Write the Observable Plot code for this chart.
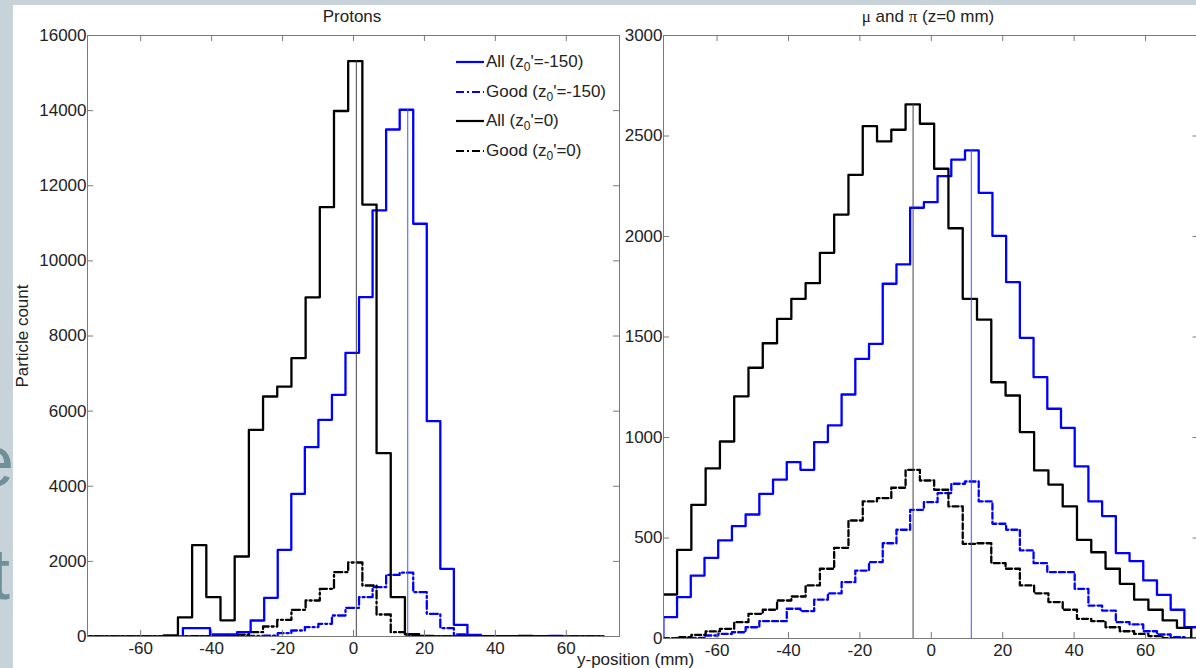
<!DOCTYPE html>
<html>
<head>
<meta charset="utf-8">
<script src="https://cdn.jsdelivr.net/npm/d3@7"></script>
<script src="https://cdn.jsdelivr.net/npm/@observablehq/plot@0.6"></script>
<style>
  html, body { margin: 0; padding: 0; }
  body {
    width: 1196px; height: 668px; overflow: hidden; position: relative;
    background: #c8d3d9; font-family: "Liberation Sans", Arial, sans-serif; color: #222;
  }
  .slide-letter { position: absolute; font-size: 72px; color: #6f8f99; line-height: 1; }
  #sheet { position: absolute; left: 13px; top: 5px; right: 0; bottom: 0; background: #fff; }
  .panel { position: absolute; top: 0; }
  .panel svg { overflow: visible; max-width: none; }
  .label { position: absolute; font-size: 17px; white-space: nowrap; line-height: 1; }
  .title { transform: translateX(-50%); }
  .serif { font-family: "Liberation Serif", "Times New Roman", serif; }
  .legend { position: absolute; left: 455px; top: 52px; font-size: 17px; }
  .legend .row { position: absolute; left: 0; height: 20px; white-space: nowrap; }
  .legend svg { position: absolute; left: 0; top: 5px; }
  .legend span { position: absolute; left: 31px; top: 0; line-height: 20px; }
  .legend sub { font-size: 12px; vertical-align: -4px; line-height: 0; }
</style>
</head>
<body>
<div class="slide-letter" style="left:-26px; top:425px;">e</div>
<div class="slide-letter" style="left:-10px; top:538px;">t</div>
<div id="sheet"></div>
<div id="protons" class="panel" style="left:0px;"></div>
<div id="mesons" class="panel" style="left:600px;"></div>

<div class="label title" style="left:352px; top:8px;">Protons</div>
<div class="label title" style="left:928px; top:8px;"><span class="serif">μ</span> and <span class="serif">π</span> (z=0 mm)</div>
<div class="label" style="left:577px; top:651px;">y-position (mm)</div>
<div class="label" style="left:22px; top:336px; transform: translate(-50%,-50%) rotate(-90deg);">Particle count</div>

<div class="legend" id="legend"></div>

<script>
// Histogram outlines, bin counts per series (y-position in mm, counts per bin)
const xTicks = [-60, -40, -20, 0, 20, 40, 60];

// Protons
const protonYTicks = [0, 2000, 4000, 6000, 8000, 10000, 12000, 14000, 16000];
const protonBinsZ0 = { start: -77.5, width: 4 };
const protonAllZ0 = [0, 0, 0, 0, 0, 0, 30, 510, 2430, 1050, 430, 2130, 5500, 6390, 6650, 7410,
  9030, 11430, 13990, 15320, 11500, 4880, 1050, 60, 15, 0, 0, 0, 0, 0, 0, 15, 0, 0, 0, 0, 0];
const protonGoodZ0 = [0, 0, 0, 0, 0, 0, 0, 5, 10, 10, 20, 50, 115, 266, 444, 710,
  958, 1269, 1713, 1970, 1358, 586, 115, 40, 5, 0, 0, 0, 0, 0, 0, 0, 0, 0, 0, 0, 0];
const protonBinsZ150 = { start: -48.1, width: 3.82 };
const protonAllZ150 = [222, 222, 53, 53, 115, 426, 1030, 2308, 3798, 5040, 5769, 6434, 7553, 9034,
  11342, 13498, 14023, 10988, 5733, 1802, 311, 45, 10, 0, 0, 0, 0, 15];
const protonGoodZ150 = [0, 0, 0, 5, 10, 15, 20, 88, 160, 248, 338, 559, 764, 1046,
  1313, 1640, 1700, 1180, 604, 222, 53, 10, 0, 0, 0, 0, 0, 0];
const protonMeans = [
  { series: "All (z0'=0)", y: 0.8, peak: 15320 },
  { series: "All (z0'=-150)", y: 15.3, peak: 14023 }
];

// Muons and pions (z = 0 mm)
const mesonYTicks = [0, 500, 1000, 1500, 2000, 2500, 3000];
const mesonBinsZ0 = { start: -75.2, width: 4 };
const mesonAllZ0 = [219, 441, 665, 846, 980, 1205, 1347, 1469, 1590, 1690, 1768, 1919, 2109, 2307,
  2549, 2473, 2531, 2657, 2561, 2337, 2041, 1690, 1586, 1275, 1209, 1027, 836, 766, 657, 491,
  429, 347, 272, 193, 143, 90, 53];
const mesonGoodZ0 = [0, 7, 18, 35, 48, 81, 123, 143, 189, 209, 264, 347, 451, 587, 682, 698,
  750, 839, 786, 740, 657, 471, 474, 375, 347, 264, 225, 181, 143, 98, 86, 56, 36, 23, 12, 2, 0];
const mesonBinsZ150 = { start: -75.04, width: 3.84 };
const mesonAllZ150 = [106, 206, 313, 401, 488, 559, 617, 720, 790, 877, 839, 977, 1060, 1214,
  1391, 1466, 1765, 1861, 2143, 2171, 2300, 2382, 2428, 2217, 2003, 1773, 1496, 1300, 1143,
  1048, 856, 682, 609, 425, 385, 289, 217, 143, 56];
const mesonGoodZ150 = [0, 0, 3, 15, 23, 31, 56, 86, 86, 148, 136, 193, 225, 280, 338, 380,
  474, 541, 640, 678, 723, 770, 781, 682, 571, 541, 438, 375, 330, 330, 247, 164, 139, 81,
  70, 36, 20, 7, 0];
const mesonMeans = [
  { series: "All (z0'=0)", y: -5.1, peak: 2657 },
  { series: "All (z0'=-150)", y: 11.2, peak: 2428 }
];

const BLUE = "#0000ff", BLACK = "#000000", AXIS = "#7a7a7a";
const DASHDOT = "8,3,2,3", DASHED = "6,3";

// Turn bin counts into a closed stair outline
function stairs(bins, counts) {
  const pts = [{ x: bins.start, y: 0 }];
  counts.forEach((c, i) => {
    pts.push({ x: bins.start + i * bins.width, y: c });
    pts.push({ x: bins.start + (i + 1) * bins.width, y: c });
  });
  pts.push({ x: bins.start + counts.length * bins.width, y: 0 });
  return pts;
}

function histPanel({ width, height, marginLeft, marginRight, marginTop, marginBottom,
                     yDomain, yTicks, series, means, goodDash }) {
  const fw = width - marginLeft - marginRight;
  const fh = height - marginTop - marginBottom;
  const marks = [];
  for (const s of series) {
    marks.push(Plot.line(stairs(s.bins, s.counts), {
      x: "x", y: "y", stroke: s.color, strokeWidth: 2.3,
      strokeDasharray: s.dashed ? goodDash : null, clip: true
    }));
  }
  marks.push(Plot.ruleX(means, {
    x: "y", y1: 0, y2: "peak",
    stroke: d => d.series.includes("-150") ? "#3a55ff" : "#444",
    strokeWidth: 1
  }));
  marks.push(
    Plot.frame({ stroke: AXIS }),
    Plot.tickX(xTicks, { x: d => d, insetTop: fh - 6, stroke: AXIS }),
    Plot.tickX(xTicks, { x: d => d, insetBottom: fh - 6, stroke: AXIS }),
    Plot.tickY(yTicks, { y: d => d, insetRight: fw - 6, stroke: AXIS }),
    Plot.tickY(yTicks, { y: d => d, insetLeft: fw - 6, stroke: AXIS }),
    Plot.axisX(xTicks, { tickSize: 0, tickPadding: 5, fontSize: 17, label: null,
                         tickFormat: d => String(d), fill: "#222" }),
    Plot.axisY(yTicks, { tickSize: 0, tickPadding: 1, fontSize: 17, label: null,
                         tickFormat: d => String(d), fill: "#222" })
  );
  return Plot.plot({
    width, height, marginLeft, marginRight, marginTop, marginBottom,
    style: { background: "transparent", fontFamily: "Liberation Sans, Arial, sans-serif", overflow: "visible" },
    x: { domain: [-75, 75] },
    y: { domain: yDomain },
    marks
  });
}

document.getElementById("protons").append(histPanel({
  width: 640, height: 668, marginLeft: 87, marginRight: 21, marginTop: 35, marginBottom: 32,
  yDomain: [0, 16000], yTicks: protonYTicks, goodDash: DASHDOT,
  series: [
    { bins: protonBinsZ150, counts: protonGoodZ150, color: BLUE, dashed: true },
    { bins: protonBinsZ0, counts: protonGoodZ0, color: BLACK, dashed: true },
    { bins: protonBinsZ150, counts: protonAllZ150, color: BLUE, dashed: false },
    { bins: protonBinsZ0, counts: protonAllZ0, color: BLACK, dashed: false }
  ],
  means: protonMeans
}));

document.getElementById("mesons").append(histPanel({
  width: 620, height: 668, marginLeft: 63, marginRight: 21.4, marginTop: 35, marginBottom: 30,
  yDomain: [0, 3000], yTicks: mesonYTicks, goodDash: DASHED,
  series: [
    { bins: mesonBinsZ150, counts: mesonGoodZ150, color: BLUE, dashed: true },
    { bins: mesonBinsZ0, counts: mesonGoodZ0, color: BLACK, dashed: true },
    { bins: mesonBinsZ150, counts: mesonAllZ150, color: BLUE, dashed: false },
    { bins: mesonBinsZ0, counts: mesonAllZ0, color: BLACK, dashed: false }
  ],
  means: mesonMeans
}));

// Legend (Protons panel)
const legendItems = [
  { name: "All", z: "-150", color: BLUE, dash: null },
  { name: "Good", z: "-150", color: BLUE, dash: DASHDOT },
  { name: "All", z: "0", color: BLACK, dash: null },
  { name: "Good", z: "0", color: BLACK, dash: DASHDOT }
];
const legend = document.getElementById("legend");
legendItems.forEach((it, i) => {
  const row = document.createElement("div");
  row.className = "row";
  row.style.top = (i * 29.5) + "px";
  row.innerHTML =
    `<svg width="30" height="10"><line x1="1" y1="5" x2="29" y2="5" stroke="${it.color}" stroke-width="2.2"` +
    (it.dash ? ` stroke-dasharray="${it.dash}"` : "") + `/></svg>` +
    `<span>${it.name} (z<sub>0</sub>'=${it.z})</span>`;
  legend.append(row);
});
</script>
</body>
</html>
